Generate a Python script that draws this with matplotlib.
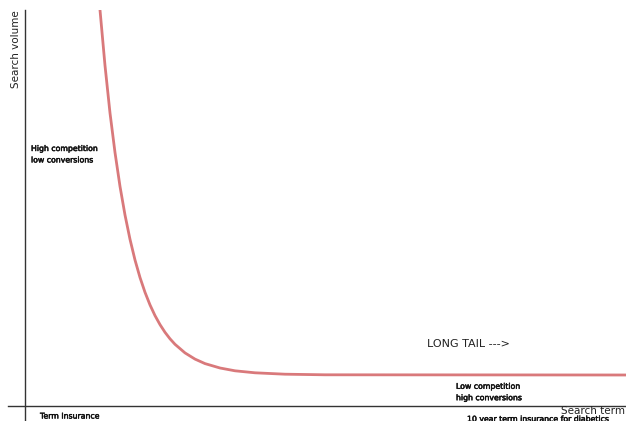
import matplotlib
matplotlib.use("Agg")
import matplotlib.pyplot as plt
import matplotlib.patheffects as pe

# long tail curve (x = keyword rank, y = search volume)
rank = [71, 75, 80, 85, 90, 95, 100, 105, 110, 115, 120, 125, 130, 135, 140, 145, 150,
        160, 170, 180, 195, 210, 230, 260, 300, 601]
volume = [447, 396, 340.5, 293, 253.5, 219.6, 191, 166.7, 146, 128.5, 113.7, 101.1, 90.4,
          81.4, 73.7, 67.2, 61.7, 53.1, 46.9, 42.4, 38, 35.2, 33.2, 31.8, 31.2, 31]

head_label = "High competition\nlow conversions"
tail_label = "Low competition\nhigh conversions"
head_term = "Term Insurance"
tail_term = "10 year term insurance for diabetics"

fig = plt.figure(figsize=(6.26, 4.21), dpi=100)
ax = fig.add_axes([0, 0, 1, 411 / 421])
ax.set_xlim(-25, 601)
ax.set_ylim(-15, 396)

ax.plot(rank, volume, color="#d9797b", lw=2.0, solid_capstyle="round", solid_joinstyle="round")

for s in ["top", "right"]:
    ax.spines[s].set_visible(False)
ax.spines["left"].set_position(("data", 0))
ax.spines["bottom"].set_position(("data", 0))
ax.spines["left"].set_bounds(-15, 396)
ax.spines["bottom"].set_bounds(-17, 601)
for s in ["left", "bottom"]:
    ax.spines[s].set_color("#333333")
    ax.spines[s].set_linewidth(1.0)
ax.set_xticks([])
ax.set_yticks([])

# small labels look a bit heavier than regular weight in the original
thick = [pe.withStroke(linewidth=0.35, foreground="#111111")]
small = dict(fontsize=5.6, color="#111111", path_effects=thick)
ax.text(-9, 396, "Search volume", rotation=90, ha="center", va="top", fontsize=7.5, color="#222222")
ax.text(6, 262, head_label, ha="left", va="top", linespacing=1.35, **small)
ax.text(402, 62, "LONG TAIL --->", ha="left", va="center", fontsize=8, color="#222222")
ax.text(431, 14, tail_label, ha="left", va="center", linespacing=1.35, **small)
ax.text(600, -5, "Search term", ha="right", va="center", fontsize=7.5, color="#222222")
ax.text(15, -10, head_term, ha="left", va="center", **small)
ax.text(442, -13, tail_term, ha="left", va="center", **small)

fig.savefig("out.png", dpi=100)
